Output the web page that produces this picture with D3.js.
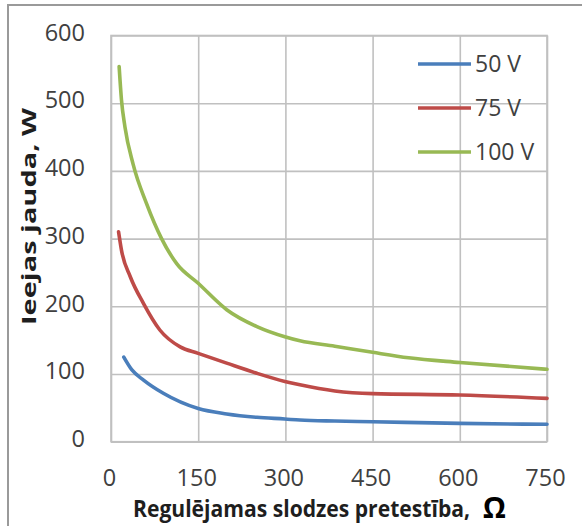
<!DOCTYPE html>
<html lang="lv">
<head>
    <meta charset="UTF-8">
    <title>Ieejas jauda</title>
    <style>
        body { margin: 0; background: #fff; }
        svg text { font-family: 'Open Sans', 'Liberation Sans', sans-serif; }
        .tick text { fill: #404040; font-size: 23.5px; }
        .legend text { fill: #404040; font-size: 23px; }
        .axis-title { fill: #1e1e1e; font-weight: bold; }
    </style>
    <script src="https://d3js.org/d3.v7.min.js"></script>
</head>
<body>
    <svg id="chart" width="582" height="526"></svg>
    <script>
        // values
        let seriesNames = ["50 V", "75 V", "100 V"];
        let seriesColors = ["#4a7ebb", "#be4b48", "#98b954"];

        let x50 = [22, 36, 56, 90, 150, 199, 251, 299, 325, 385, 450, 600, 750];
        let y50 = [125, 106, 91, 71.5, 49, 41, 36, 33.5, 32, 30.5, 29.5, 27, 25.7];

        let x75 = [13, 18, 33, 56, 84, 119, 150, 199, 251, 299, 325, 385, 450, 600, 750];
        let y75 = [310, 283, 244, 204, 165, 140, 130.5, 116, 101, 89, 84, 75, 71, 69, 64];

        let x100 = [14, 18, 24, 38, 61, 87, 113, 150, 199, 251, 299, 325, 385, 450, 512, 600, 750];
        let y100 = [554, 505, 465, 410, 352, 300, 263, 234, 195, 170, 155, 149, 141, 132, 124, 117, 107];

        let xTicks = [0, 150, 300, 450, 600, 750];
        let yTicks = [0, 100, 200, 300, 400, 500, 600];

        let xLabel = "Regulējamas slodzes pretestība,";
        let xUnit = "Ω";
        let yLabel = "Ieejas jauda, W";

        let series = [
            {name: seriesNames[0], color: seriesColors[0], xs: x50, ys: y50},
            {name: seriesNames[1], color: seriesColors[1], xs: x75, ys: y75},
            {name: seriesNames[2], color: seriesColors[2], xs: x100, ys: y100}
        ];

        let margin = {top: 35.5, right: 35, bottom: 84.3, left: 111},
            width = 582 - margin.left - margin.right,
            height = 526 - margin.top - margin.bottom;

        let root = d3.select("#chart");

        // outer frame of the picture
        root.append("rect")
            .attr("x", 8).attr("y", 5)
            .attr("width", 640).attr("height", 640)
            .attr("fill", "none")
            .attr("stroke", "#9a9a9a")
            .attr("stroke-width", 2);

        let svg = root.append("g")
            .attr("transform", "translate(" + margin.left + "," + margin.top + ")");

        let x = d3.scaleLinear().domain([0, 750]).range([0, width]);
        let y = d3.scaleLinear().domain([0, 600]).range([height, 0]);

        // grid
        svg.append("g")
            .attr("class", "grid")
            .call(d3.axisLeft(y).tickValues(yTicks).tickSize(-width).tickFormat(""))
            .call(g => g.select(".domain").remove());
        svg.append("g")
            .attr("class", "grid")
            .attr("transform", "translate(0," + height + ")")
            .call(d3.axisBottom(x).tickValues(xTicks).tickSize(-height).tickFormat(""))
            .call(g => g.select(".domain").remove());
        svg.selectAll(".grid line")
            .attr("stroke", "#c0c0c0")
            .attr("stroke-width", 1.6);

        svg.append("rect")
            .attr("width", width).attr("height", height)
            .attr("fill", "none")
            .attr("stroke", "#c0c0c0")
            .attr("stroke-width", 1.6);

        // tick labels
        svg.append("g")
            .call(d3.axisLeft(y).tickValues(yTicks).tickSize(0).tickPadding(26))
            .call(g => g.select(".domain").remove())
            .selectAll("text").attr("dy", "0.2em");
        svg.append("g")
            .attr("transform", "translate(0," + height + ")")
            .call(d3.axisBottom(x).tickValues(xTicks).tickSize(0).tickPadding(28))
            .call(g => g.select(".domain").remove())
            .selectAll("text").attr("dx", "-2");

        // curves
        let line = d3.line()
            .x(d => x(d[0]))
            .y(d => y(d[1]))
            .curve(d3.curveMonotoneX);

        svg.selectAll(".series")
            .data(series)
            .enter()
            .append("path")
            .attr("class", "series")
            .attr("fill", "none")
            .attr("stroke", d => d.color)
            .attr("stroke-width", 3.6)
            .attr("stroke-linecap", "round")
            .attr("d", d => line(d.xs.map((v, i) => [v, d.ys[i]])));

        // legend
        let legend = root.append("g")
            .attr("class", "legend")
            .selectAll("g")
            .data(series)
            .enter()
            .append("g")
            .attr("transform", (d, i) => "translate(418," + (64 + i * 44) + ")");

        legend.append("line")
            .attr("x1", 0).attr("x2", 53)
            .attr("stroke", d => d.color)
            .attr("stroke-width", 3.6);

        legend.append("text")
            .attr("x", 57)
            .attr("dy", "0.36em")
            .text(d => d.name);

        // axis titles (stretched a bit vertically, like the narrow original font)
        root.append("text")
            .attr("class", "axis-title")
            .attr("transform", "translate(133,517) scale(1,1.27)")
            .style("font-size", "18px")
            .attr("textLength", 337)
            .attr("lengthAdjust", "spacingAndGlyphs")
            .text(xLabel);

        root.append("text")
            .attr("class", "axis-title")
            .attr("x", 483).attr("y", 518)
            .style("font-size", "29px")
            .style("fill", "#000")
            .text(xUnit);

        root.append("text")
            .attr("class", "axis-title")
            .attr("transform", "translate(35.5,216.5) rotate(-90)")
            .attr("text-anchor", "middle")
            .style("font-size", "20px")
            .attr("textLength", 217)
            .attr("lengthAdjust", "spacingAndGlyphs")
            .text(yLabel);
    </script>
</body>
</html>
